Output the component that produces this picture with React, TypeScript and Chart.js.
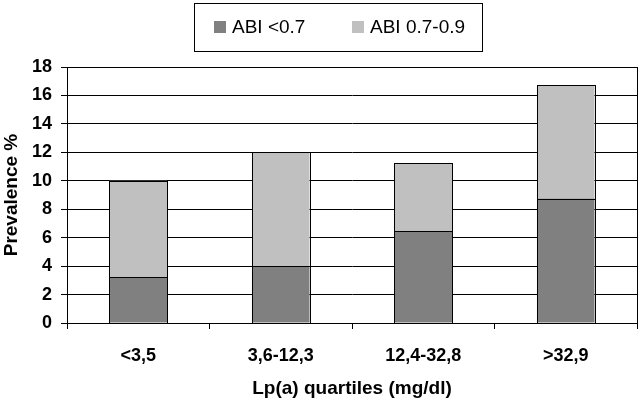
import { useEffect, useRef } from 'react';
import { Chart, registerables } from 'chart.js';

Chart.register(...registerables);

const categories = ['<3,5', '3,6-12,3', '12,4-32,8', '>32,9'];
const abiBelow07 = [3.2, 4.0, 6.45, 8.75];
const abi07to09 = [6.8, 8.0, 4.8, 7.95];
const seriesLabels = ['ABI <0.7', 'ABI 0.7-0.9'];
const seriesColors = ['#808080', '#c0c0c0'];
const yMin = 0;
const yMax = 18;
const yStep = 2;
const yTitle = 'Prevalence %';
const xTitle = 'Lp(a) quartiles (mg/dl)';

const FONT = "'Liberation Sans', Arial, Helvetica, sans-serif";

export default function App() {
  const ref = useRef<HTMLCanvasElement>(null);

  useEffect(() => {
    if (!ref.current) return;

    const plotBorder = {
      id: 'plotBorder',
      afterDatasetsDraw(chart: any) {
        const { left, top, right, bottom } = chart.chartArea;
        const ctx = chart.ctx;
        ctx.save();
        ctx.strokeStyle = '#000';
        ctx.lineWidth = 1;
        const l = Math.round(left) + 0.5;
        const t = Math.round(top) + 0.5;
        ctx.strokeRect(l, t, Math.round(right) - Math.round(left), Math.round(bottom) - Math.round(top));
        // crisp outlines around each bar segment, taken from the library's bar elements
        chart.data.datasets.forEach((_ds: any, di: number) => {
          const meta = chart.getDatasetMeta(di);
          meta.data.forEach((bar: any) => {
            const x0 = Math.round(bar.x - bar.width / 2);
            const x1 = Math.round(bar.x + bar.width / 2);
            const y0 = Math.round(Math.min(bar.y, bar.base));
            const y1 = Math.round(Math.max(bar.y, bar.base));
            ctx.strokeRect(x0 + 0.5, y0 + 0.5, x1 - x0, y1 - y0);
          });
        });
        ctx.restore();
      },
    };

    const boxedLegend = {
      id: 'boxedLegend',
      afterDraw(chart: any) {
        const ctx = chart.ctx;
        ctx.save();
        ctx.strokeStyle = '#000';
        ctx.lineWidth = 1;
        ctx.strokeRect(194.5, 3.5, 288, 48);
        const itemX = [214, 352];
        ctx.font = `19px ${FONT}`;
        ctx.textBaseline = 'middle';
        ctx.textAlign = 'left';
        chart.data.datasets.forEach((ds: any, i: number) => {
          ctx.fillStyle = ds.backgroundColor;
          ctx.fillRect(itemX[i], 21, 12, 12);
          ctx.fillStyle = '#000';
          ctx.fillText(ds.label, itemX[i] + 18, 28);
        });
        ctx.restore();
      },
    };

    const chart = new Chart(ref.current, {
      type: 'bar',
      data: {
        labels: categories,
        datasets: [
          {
            label: seriesLabels[0],
            data: abiBelow07,
            backgroundColor: seriesColors[0],
            borderWidth: 0,
            categoryPercentage: 1,
            barPercentage: 0.404,
          },
          {
            label: seriesLabels[1],
            data: abi07to09,
            backgroundColor: seriesColors[1],
            borderWidth: 0,
            categoryPercentage: 1,
            barPercentage: 0.404,
          },
        ],
      },
      options: {
        animation: false,
        responsive: true,
        maintainAspectRatio: false,
        layout: { padding: { top: 67, right: 5, left: 0, bottom: 0 } },
        plugins: {
          legend: { display: false },
          tooltip: { enabled: false },
        },
        scales: {
          x: {
            stacked: true,
            grid: {
              drawOnChartArea: false,
              drawTicks: true,
              tickLength: 6,
              color: '#000',
              offset: true,
            },
            border: { color: '#000' },
            ticks: {
              color: '#000',
              font: { family: FONT, size: 18, weight: 'bold' },
              padding: 16,
              maxRotation: 0,
            },
            title: {
              display: true,
              text: xTitle,
              color: '#000',
              font: { family: FONT, size: 19, weight: 'bold' },
              padding: { top: 0, bottom: 2 },
            },
            afterFit(scale: any) {
              scale.height = 79;
            },
          },
          y: {
            stacked: true,
            min: yMin,
            max: yMax,
            grid: {
              color: '#000',
              tickLength: 6,
              drawTicks: true,
            },
            border: { color: '#000' },
            ticks: {
              stepSize: yStep,
              color: '#000',
              font: { family: FONT, size: 18, weight: 'bold' },
              padding: 9,
            },
            title: {
              display: true,
              text: yTitle,
              color: '#000',
              font: { family: FONT, size: 19, weight: 'bold' },
              padding: 0,
            },
            afterFit(scale: any) {
              scale.width = 67;
            },
          },
        },
      },
      plugins: [plotBorder, boxedLegend],
    });

    return () => chart.destroy();
  }, []);

  return (
    <div style={{ position: 'absolute', left: 0, top: 0, width: 642, height: 402, background: '#fff' }}>
      <canvas ref={ref} />
    </div>
  );
}
